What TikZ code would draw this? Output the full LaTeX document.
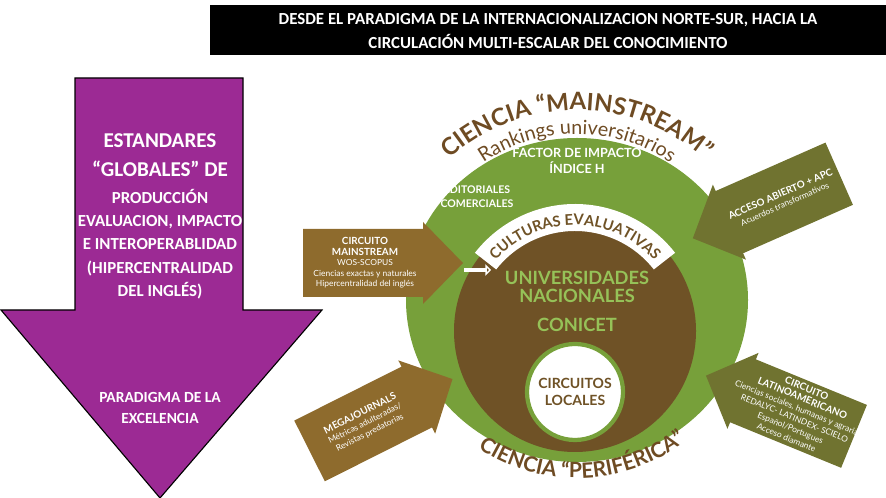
\documentclass[tikz,border=0pt]{standalone}
\usepackage{fontspec}
\setmainfont{Carlito}
\newfontfamily\lato{Lato}
\usetikzlibrary{decorations.text,arrows.meta,calc}
\definecolor{morado}{RGB}{156,42,148}
\definecolor{verde}{RGB}{119,160,58}
\definecolor{verdeclaro}{RGB}{150,194,88}
\definecolor{cafe}{RGB}{111,82,38}
\definecolor{dorado}{RGB}{142,107,45}
\definecolor{oliva}{RGB}{112,115,48}
\definecolor{titulo}{RGB}{110,75,35}
\newcommand\negrita{\lato\bfseries\fontsize{7}{8.5}\selectfont}
\newcommand\normalita{\lato\mdseries\fontsize{6}{7.5}\selectfont}
\tikzset{
  txtblanco/.style={text=white,font=\bfseries,align=center,inner sep=0pt},
  txtcirc/.style={font=\lato\bfseries,align=center,inner sep=0pt},
  flecha/.style={fill=#1,draw=none},
}
% flecha de circuito: x, y, angulo, color, giro del texto, nombre, texto
\newcommand\flechacirc[7]{%
  \fill[flecha=#4,shift={(#1,#2)},rotate=#3] (-80,-34) -- (40,-34) -- (40,-41)
     -- (80,0) -- (40,41) -- (40,34) -- (-80,34) -- cycle;
  \node[rotate=#3+#5,text=white,align=center,inner sep=0pt,font=\normalita]
     (#6) at ($(#1,#2)+(#3:-18)$) {#7};}
\begin{document}
\begin{tikzpicture}[x=0.025cm,y=0.025cm]
\useasboundingbox (0,0) rectangle (886,498);
% titulo
\fill[black] (210,443) rectangle (886,493);
\node[txtblanco,font=\bfseries\fontsize{12}{17}\selectfont] (titulo) at (548,467)
  {DESDE EL PARADIGMA DE LA INTERNACIONALIZACION NORTE-SUR, HACIA LA\\
   CIRCULACI\'ON MULTI-ESCALAR DEL CONOCIMIENTO};
% flecha morada
\draw[fill=morado,line width=0.8pt] (75,420) -- (243,420) -- (243,188) -- (322,188)
   -- (160,0) -- (1,188) -- (75,188) -- cycle;
\node[txtblanco,font=\bfseries\fontsize{15}{21}\selectfont] (estandares) at (160,343)
  {ESTANDARES\\``GLOBALES'' DE};
\node[txtblanco,font=\bfseries\fontsize{12}{16.5}\selectfont] (produccion) at (160,254)
  {PRODUCCI\'ON\\EVALUACION, IMPACTO\\E INTEROPERABLIDAD\\(HIPERCENTRALIDAD\\DEL INGL\'ES)};
\node[txtblanco,font=\bfseries\fontsize{11}{15}\selectfont] (excelencia) at (160,90)
  {PARADIGMA DE LA\\EXCELENCIA};
% circulos
\coordinate (cg) at (577,198);
\coordinate (cc) at (575,167);
\fill[verde] (cg) ellipse[x radius=171,y radius=162];
\fill[cafe] (cc) circle[radius=121];
\fill[white] ($(cc)+(38:100)$) arc[start angle=38,end angle=142,radius=100]
   -- ($(cc)+(142:127)$) arc[start angle=142,end angle=38,radius=127] -- cycle;
\path[decorate,decoration={text along path,text align=center,text color=cafe,
   text={|\lato\bfseries\fontsize{10.5}{12}\selectfont|CULTURAS EVALUATIVAS}}]
   ($(cc)+(142:106)$) arc[start angle=142,end angle=38,radius=106];
\draw[verde,line width=3pt,fill=white] (575,106) circle[radius=48];
\node[txtcirc,text=cafe,font=\lato\bfseries\fontsize{10}{12}\selectfont] (locales) at (575,106)
  {CIRCUITOS\\LOCALES};
\node[txtcirc,text=verdeclaro,font=\lato\bfseries\fontsize{13}{13}\selectfont] (univ) at (577,211)
  {UNIVERSIDADES\\NACIONALES};
\node[txtcirc,text=verdeclaro,font=\lato\bfseries\fontsize{13}{13}\selectfont] (conicet) at (577,173) {CONICET};
\node[txtcirc,text=white,font=\lato\bfseries\fontsize{9}{11}\selectfont] (factor) at (577,337)
  {FACTOR DE IMPACTO\\\'INDICE H};
\node[txtcirc,text=white,font=\lato\bfseries\fontsize{7.5}{10}\selectfont] (editoriales) at (477,301)
  {EDITORIALES\\COMERCIALES};
% textos curvos
\path[decorate,decoration={text along path,text align=center,text color=titulo,
   text={|\lato\bfseries\fontsize{17}{17}\selectfont|CIENCIA “MAINSTREAM”}}]
   ($(cg)+(132:190)$) arc[start angle=132,end angle=48,radius=190];
\path[decorate,decoration={text along path,text align=center,text color=titulo,
   text={|\lato\fontsize{14}{14}\selectfont|Rankings universitarios}}]
   ($(cg)+(130:166)$) arc[start angle=130,end angle=50,radius=166];
\path[decorate,decoration={text along path,text align=center,text color=titulo,
   text={|\lato\bfseries\fontsize{15}{15}\selectfont|CIENCIA “PERIFÉRICA”}}]
   ($(cg)+(237:178)$) arc[start angle=237,end angle=307,radius=178];
% flechas de circuitos
\flechacirc{383}{235}{0}{dorado}{0}{mainstream}{\negrita CIRCUITO\\\negrita MAINSTREAM\\\normalita WOS-SCOPUS\\\normalita Ciencias exactas y naturales\\\normalita Hipercentralidad del ingl\'es}
\flechacirc{381}{83}{26.7}{dorado}{0}{mega}{\negrita MEGAJOURNALS\\\normalita M\'etricas adulteradas/\\\normalita Revistas predatorias}
\flechacirc{766}{292}{203.8}{oliva}{180}{acceso}{\negrita ACCESO ABIERTO + APC\\\normalita Acuerdos transformativos}
\flechacirc{780}{92}{157.7}{oliva}{180}{latino}{\negrita CIRCUITO\\\negrita LATINOAMERICANO\\\normalita Ciencias sociales, humanas y agrarias\\\normalita REDALYC- LATINDEX- SCIELO\\\normalita Espa\~nol/Portugues\\\normalita Acceso diamante}
\coordinate (ini) at (464,228);
\coordinate (fin) at (491,228);
\draw[white,line width=2.2pt,-{Triangle[open,length=4pt,width=8pt,line width=2pt]}] (ini) -- (fin);
\end{tikzpicture}
\end{document}
